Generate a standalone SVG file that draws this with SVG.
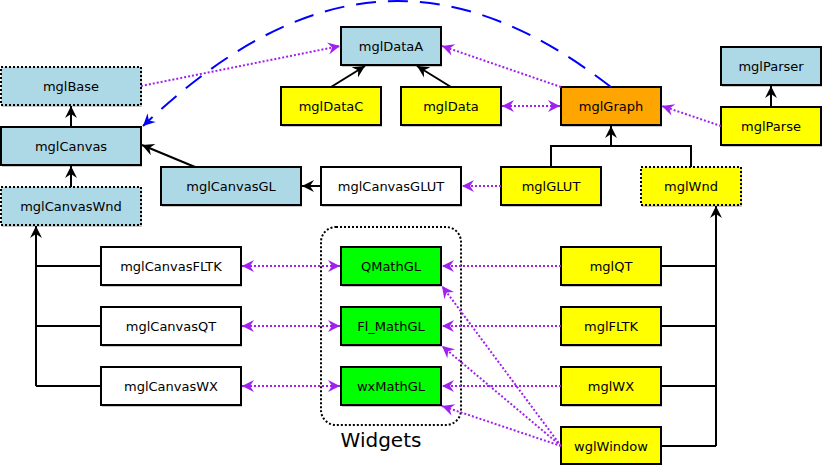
<svg xmlns="http://www.w3.org/2000/svg" width="822" height="466" viewBox="0 0 822 466">
<style>
.sh{fill:#c8c8c8;stroke:none}
.b{stroke:#000;stroke-width:2}
.dot{stroke-dasharray:2,2}
.lb{fill:#add8e6}.ye{fill:#ffff00}.or{fill:#ffa500}.gr{fill:#00ff00}.wh{fill:#ffffff}
text{font-family:"DejaVu Sans","Liberation Sans",sans-serif;font-size:13px;fill:#000;text-anchor:middle}
.k{stroke:#000;stroke-width:2;fill:none}
.p{stroke:#a020f0;stroke-width:2;stroke-dasharray:2,2;fill:none}
.bl{stroke:#0000ff;stroke-width:2;stroke-dasharray:20,12;fill:none}
</style>
<defs>
<marker id="ak" viewBox="-13 -7 14 14" refX="0" refY="0" markerWidth="14" markerHeight="14" markerUnits="userSpaceOnUse" orient="auto-start-reverse"><path d="M0,0 L-12,-6 L-8,0 L-12,6 z" fill="#000"/></marker>
<marker id="ap" viewBox="-13 -7 14 14" refX="0" refY="0" markerWidth="14" markerHeight="14" markerUnits="userSpaceOnUse" orient="auto-start-reverse"><path d="M0,0 L-12,-6 L-8,0 L-12,6 z" fill="#a020f0"/></marker>
<marker id="ab" viewBox="-13 -7 14 14" refX="0" refY="0" markerWidth="14" markerHeight="14" markerUnits="userSpaceOnUse" orient="auto-start-reverse"><path d="M0,0 L-12,-6 L-8,0 L-12,6 z" fill="#0000ff"/></marker>
</defs>

<g id="widgets">
<rect x="321" y="227" width="140" height="198" rx="15" ry="15" fill="none" stroke="#000" stroke-width="2" stroke-dasharray="2,2"/>
<text x="381" y="447" style="font-size:20px">Widgets</text>
</g>

<g id="nodes">
<g id="mglBase"><rect class="sh" x="2" y="69" width="140" height="38"/><rect class="b dot lb" x="1" y="67" width="140" height="38"/><text x="71" y="91">mglBase</text></g>
<g id="mglCanvas"><rect class="sh" x="2" y="129" width="140" height="38"/><rect class="b lb" x="1" y="127" width="140" height="38"/><text x="71" y="151">mglCanvas</text></g>
<g id="mglCanvasWnd"><rect class="sh" x="2" y="189" width="140" height="38"/><rect class="b dot lb" x="1" y="187" width="140" height="38"/><text x="71" y="211">mglCanvasWnd</text></g>
<g id="mglCanvasGL"><rect class="sh" x="162" y="169" width="140" height="38"/><rect class="b lb" x="161" y="167" width="140" height="38"/><text x="231" y="191">mglCanvasGL</text></g>
<g id="mglCanvasGLUT"><rect class="sh" x="322" y="169" width="140" height="38"/><rect class="b wh" x="321" y="167" width="140" height="38"/><text x="391" y="191">mglCanvasGLUT</text></g>
<g id="mglDataA"><rect class="sh" x="342" y="29" width="100" height="38"/><rect class="b lb" x="341" y="27" width="100" height="38"/><text x="391" y="51">mglDataA</text></g>
<g id="mglDataC"><rect class="sh" x="282" y="89" width="100" height="38"/><rect class="b ye" x="281" y="87" width="100" height="38"/><text x="331" y="111">mglDataC</text></g>
<g id="mglData"><rect class="sh" x="402" y="89" width="100" height="38"/><rect class="b ye" x="401" y="87" width="100" height="38"/><text x="451" y="111">mglData</text></g>
<g id="mglGraph"><rect class="sh" x="562" y="89" width="100" height="38"/><rect class="b or" x="561" y="87" width="100" height="38"/><text x="611" y="111">mglGraph</text></g>
<g id="mglParser"><rect class="sh" x="722" y="49" width="100" height="38"/><rect class="b lb" x="721" y="47" width="100" height="38"/><text x="771" y="71">mglParser</text></g>
<g id="mglParse"><rect class="sh" x="722" y="109" width="100" height="38"/><rect class="b ye" x="721" y="107" width="100" height="38"/><text x="771" y="131">mglParse</text></g>
<g id="mglGLUT"><rect class="sh" x="502" y="169" width="100" height="38"/><rect class="b ye" x="501" y="167" width="100" height="38"/><text x="551" y="191">mglGLUT</text></g>
<g id="mglWnd"><rect class="sh" x="642" y="169" width="100" height="38"/><rect class="b dot ye" x="641" y="167" width="100" height="38"/><text x="691" y="191">mglWnd</text></g>
<g id="mglCanvasFLTK"><rect class="sh" x="102" y="249" width="140" height="38"/><rect class="b wh" x="101" y="247" width="140" height="38"/><text x="171" y="271">mglCanvasFLTK</text></g>
<g id="mglCanvasQT"><rect class="sh" x="102" y="309" width="140" height="38"/><rect class="b wh" x="101" y="307" width="140" height="38"/><text x="171" y="331">mglCanvasQT</text></g>
<g id="mglCanvasWX"><rect class="sh" x="102" y="369" width="140" height="38"/><rect class="b wh" x="101" y="367" width="140" height="38"/><text x="171" y="391">mglCanvasWX</text></g>
<g id="QMathGL"><rect class="sh" x="342" y="249" width="100" height="38"/><rect class="b gr" x="341" y="247" width="100" height="38"/><text x="391" y="271">QMathGL</text></g>
<g id="Fl_MathGL"><rect class="sh" x="342" y="309" width="100" height="38"/><rect class="b gr" x="341" y="307" width="100" height="38"/><text x="391" y="331">Fl_MathGL</text></g>
<g id="wxMathGL"><rect class="sh" x="342" y="369" width="100" height="38"/><rect class="b gr" x="341" y="367" width="100" height="38"/><text x="391" y="391">wxMathGL</text></g>
<g id="mglQT"><rect class="sh" x="562" y="249" width="100" height="38"/><rect class="b ye" x="561" y="247" width="100" height="38"/><text x="611" y="271">mglQT</text></g>
<g id="mglFLTK"><rect class="sh" x="562" y="309" width="100" height="38"/><rect class="b ye" x="561" y="307" width="100" height="38"/><text x="611" y="331">mglFLTK</text></g>
<g id="mglWX"><rect class="sh" x="562" y="369" width="100" height="38"/><rect class="b ye" x="561" y="367" width="100" height="38"/><text x="611" y="391">mglWX</text></g>
<g id="wglWindow"><rect class="sh" x="562" y="429" width="100" height="36"/><rect class="b ye" x="561" y="427" width="100" height="37"/><text x="611" y="451">wglWindow</text></g>
</g>

<g id="connectors">
<path class="k" d="M71,127 L71,106" marker-end="url(#ak)"/>
<path class="k" d="M71,187 L71,166" marker-end="url(#ak)"/>
<path class="k" d="M195,167 L142,145" marker-end="url(#ak)"/>
<path class="k" d="M321,186 L302,186" marker-end="url(#ak)"/>
<path class="k" d="M101,266 L36,266 M101,326 L36,326 M101,386 L36,386"/>
<path class="k" d="M36,386 L36,226" marker-end="url(#ak)"/>
<path class="k" d="M331,87 L365,66" marker-end="url(#ak)"/>
<path class="k" d="M451,87 L417,66" marker-end="url(#ak)"/>
<path class="k" d="M551,167 L551,146 L691,146 L691,167"/>
<path class="k" d="M611,146 L611,126" marker-end="url(#ak)"/>
<path class="k" d="M771,107 L771,86" marker-end="url(#ak)"/>
<path class="k" d="M661,266 L716,266 M661,326 L716,326 M661,386 L716,386 M661,446 L716,446"/>
<path class="k" d="M716,446 L716,206" marker-end="url(#ak)"/>
<path class="p" d="M141,86 L340,46" marker-end="url(#ap)"/>
<path class="p" d="M561,87 L442,46" marker-end="url(#ap)"/>
<path class="p" d="M502,106 L560,106" marker-start="url(#ap)" marker-end="url(#ap)"/>
<path class="p" d="M721,126 L662,106" marker-end="url(#ap)"/>
<path class="p" d="M501,186 L462,186" marker-end="url(#ap)"/>
<path class="p" d="M242,266 L340,266" marker-start="url(#ap)" marker-end="url(#ap)"/>
<path class="p" d="M242,326 L340,326" marker-start="url(#ap)" marker-end="url(#ap)"/>
<path class="p" d="M242,386 L340,386" marker-start="url(#ap)" marker-end="url(#ap)"/>
<path class="p" d="M561,266 L442,266" marker-end="url(#ap)"/>
<path class="p" d="M561,326 L442,326" marker-end="url(#ap)"/>
<path class="p" d="M561,386 L442,386" marker-end="url(#ap)"/>
<path class="p" d="M561,446 L442,286" marker-end="url(#ap)"/>
<path class="p" d="M561,446 L442,346" marker-end="url(#ap)"/>
<path class="p" d="M561,446 L442,406" marker-end="url(#ap)"/>
<path class="bl" d="M611,87 C467,-24 321,-44 143,126" marker-end="url(#ab)"/>
</g>
</svg>
